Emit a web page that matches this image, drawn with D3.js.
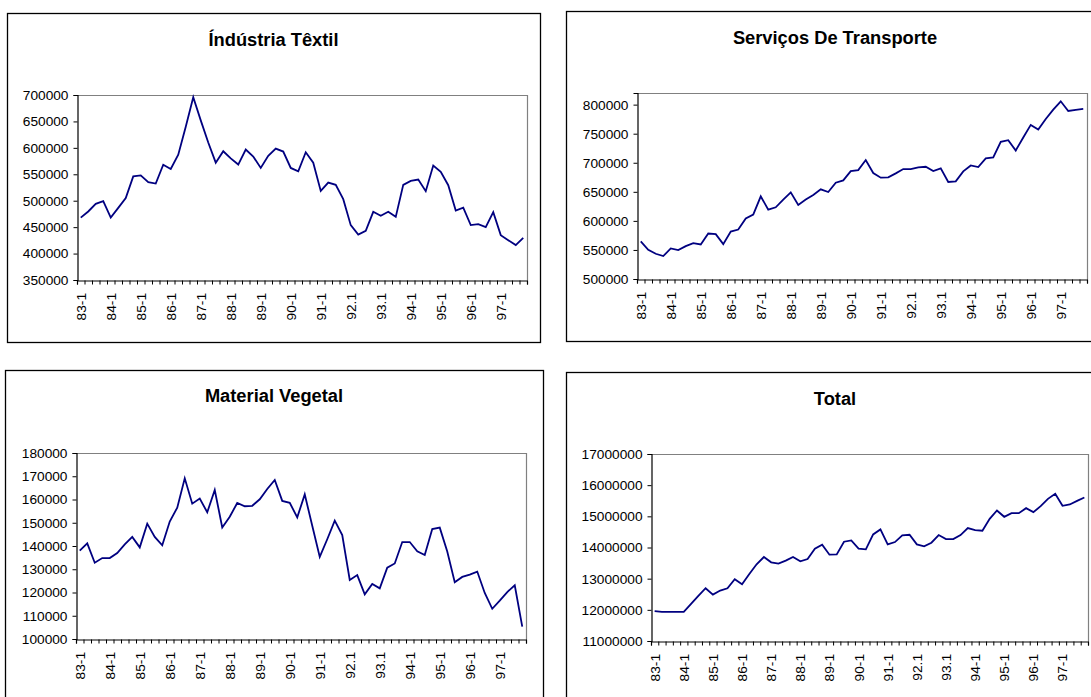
<!DOCTYPE html>
<html>
<head>
<meta charset="utf-8">
<script src="https://cdn.jsdelivr.net/npm/d3@7"></script>
<style>
  html, body { margin: 0; padding: 0; background: #fff; }
  svg { display: block; }
  text { font-family: "Liberation Sans", Arial, Helvetica, sans-serif; fill: #000; }
</style>
</head>
<body>
<svg id="chart" width="1091" height="697"></svg>
<script>
// Quarterly series, 1983 Q1 to 1997 Q4
const years = ["83","84","85","86","87","88","89","90","91","92","93","94","95","96","97"];
const quarterNums = ["1","2","3","4"];
// 1992 and 1993 are written with a dot in the source table
const yearSeparator = { "92": ".", "93": "." };
const categories = years.flatMap(y => quarterNums.map(q => y + (yearSeparator[y] || "-") + q));
const tickLabels = ["83-1","84-1","85-1","86-1","87-1","88-1","89-1","90-1","91-1","92.1","93.1","94-1","95-1","96-1","97-1"];

const textil = [468000, 479600, 494000, 499000, 468000, 486500, 505000, 546000, 548000, 535000,
  532500, 568000, 560000, 587000, 640000, 695600, 652000, 610000, 572000, 593600,
  580000, 568400, 596700, 583500, 562000, 585000, 598600, 593000, 562000, 555800,
  591700, 572000, 518600, 534400, 530000, 503000, 453800, 436000, 443000, 479000,
  471400, 479000, 469500, 530000, 537500, 540000, 518000, 566500, 554500, 529300,
  481500, 487000, 453800, 455700, 450000, 478300, 434900, 425400, 416000, 429800];

const transporte = [564600, 550300, 543400, 539400, 552600, 549700, 556600, 561700, 559400, 578300,
  577100, 560000, 581700, 585100, 604000, 610900, 642300, 619400, 623400, 636600,
  649100, 627400, 636600, 644600, 654300, 649700, 665700, 669700, 685700, 687400,
  704600, 682300, 674300, 675000, 681700, 689100, 689100, 692000, 693100, 685700,
  690300, 666900, 668000, 685100, 695400, 692600, 707400, 709100, 736000, 738900,
  721100, 743400, 765100, 757100, 775400, 791400, 805700, 789100, 791000, 792600];

const vegetal = [138000, 141100, 132800, 134800, 134800, 137000, 140700, 143900, 139400, 149600,
  143900, 140300, 150500, 156500, 169100, 158200, 160400, 154500, 164100, 148000,
  152600, 158500, 157100, 157300, 160100, 164500, 168400, 159400, 158600, 152300,
  162200, 148700, 135300, 142900, 150900, 144700, 125400, 127500, 119200, 123700,
  121800, 130700, 132500, 141700, 141700, 137700, 136100, 147300, 147900, 137600,
  124400, 126700, 127700, 129000, 119800, 113000, 116500, 120200, 123100, 105300];

const total = [11957000, 11936000, 11936000, 11936000, 11936000, 12192000, 12448000, 12693000, 12490000, 12618000,
  12693000, 12981000, 12821000, 13151000, 13461000, 13695000, 13525000, 13482000, 13578000, 13695000,
  13557000, 13631000, 13962000, 14090000, 13770000, 13780000, 14185000, 14228000, 13962000, 13940000,
  14420000, 14580000, 14100000, 14175000, 14388000, 14409000, 14100000, 14036000, 14154000, 14399000,
  14271000, 14271000, 14399000, 14623000, 14559000, 14537000, 14921000, 15188000, 14985000, 15102000,
  15102000, 15262000, 15134000, 15326000, 15561000, 15721000, 15337000, 15380000, 15497000, 15603000];

const textilTicks = [350000, 400000, 450000, 500000, 550000, 600000, 650000, 700000];
const transporteTicks = [500000, 550000, 600000, 650000, 700000, 750000, 800000];
const vegetalTicks = [100000, 110000, 120000, 130000, 140000, 150000, 160000, 170000, 180000];
const totalTicks = [11000000, 12000000, 13000000, 14000000, 15000000, 16000000, 17000000];

const panels = [
  { title: "Índústria Têxtil", values: textil, ticks: textilTicks, domain: [350000, 700000],
    box: [7, 13, 540, 342], plot: [77, 95, 527, 280], titleY: 39 },
  { title: "Serviços De Transporte", values: transporte, ticks: transporteTicks, domain: [500000, 820000],
    box: [566, 11, 1104, 341], plot: [637, 93, 1087, 279], titleY: 37 },
  { title: "Material Vegetal", values: vegetal, ticks: vegetalTicks, domain: [100000, 180000],
    box: [5, 370, 543, 712], plot: [76, 453, 526, 639], titleY: 395 },
  { title: "Total", values: total, ticks: totalTicks, domain: [11000000, 17000000],
    box: [566, 372, 1104, 712], plot: [651, 454, 1088, 641], titleY: 398 }
];

const svg = d3.select("#chart");

panels.forEach(p => {
  const [bx0, by0, bx1, by1] = p.box;
  const [px0, py0, px1, py1] = p.plot;
  const g = svg.append("g");

  // chart area frame
  g.append("rect")
    .attr("x", bx0 + 0.5).attr("y", by0 + 0.5)
    .attr("width", bx1 - bx0).attr("height", by1 - by0)
    .attr("fill", "#fff").attr("stroke", "#000").attr("stroke-width", 1.3);

  g.append("text")
    .attr("x", (bx0 + bx1) / 2).attr("y", p.titleY)
    .attr("dy", "0.36em")
    .attr("text-anchor", "middle")
    .style("font-size", "18.3px").style("font-weight", "bold")
    .text(p.title);

  const x = d3.scaleBand().domain(categories).range([px0, px1]).padding(0);
  const xEdges = d3.scaleLinear().domain([0, categories.length]).range([px0, px1]);
  const y = d3.scaleLinear().domain(p.domain).range([py1, py0]);

  // plot area border (top and right sides in grey)
  g.append("path")
    .attr("d", `M${px0},${py0 + 0.5}H${px1 + 0.5}V${py1}`)
    .attr("fill", "none").attr("stroke", "#808080").attr("stroke-width", 1.2);

  // value axis
  const yAxis = g.append("g")
    .attr("transform", `translate(${px0 + 0.5},0)`)
    .call(d3.axisLeft(y).tickValues(p.ticks).tickSize(4).tickPadding(5).tickFormat(d3.format("d")));
  yAxis.select(".domain").attr("stroke", "#000").attr("stroke-width", 1.2);
  yAxis.selectAll(".tick line").attr("stroke", "#000");
  yAxis.selectAll(".tick text")
    .style("font-size", "13.7px").style("font-family", "'Liberation Sans', Arial, sans-serif")
    .attr("fill", "#000");

  // category axis: tick marks between categories
  const xTicks = g.append("g")
    .attr("transform", `translate(0,${py1 + 0.5})`)
    .call(d3.axisBottom(xEdges).tickValues(d3.range(categories.length + 1)).tickSize(4).tickFormat(""));
  xTicks.select(".domain").attr("stroke", "#000").attr("stroke-width", 1.2);
  xTicks.selectAll(".tick line").attr("stroke", "#000");

  // category labels, one per year, rotated
  const labelled = categories.filter((c, i) => i % 4 === 0);
  const xLabels = g.append("g")
    .attr("transform", `translate(0,${py1})`)
    .call(d3.axisBottom(x).tickValues(labelled).tickSize(0)
      .tickFormat(c => tickLabels[categories.indexOf(c) / 4]));
  xLabels.select(".domain").remove();
  xLabels.selectAll(".tick text")
    .style("font-size", "13.7px").style("font-family", "'Liberation Sans', Arial, sans-serif")
    .attr("fill", "#000")
    .attr("text-anchor", "end")
    .attr("transform", "rotate(-90)")
    .attr("x", -13).attr("y", 0).attr("dy", "0.36em");

  // series line
  const line = d3.line()
    .x((d, i) => x(categories[i]) + x.bandwidth() / 2)
    .y(d => y(d));
  g.append("path")
    .datum(p.values)
    .attr("d", line)
    .attr("fill", "none")
    .attr("stroke", "#000080")
    .attr("stroke-width", 1.8)
    .attr("stroke-linejoin", "miter");
});
</script>
</body>
</html>
